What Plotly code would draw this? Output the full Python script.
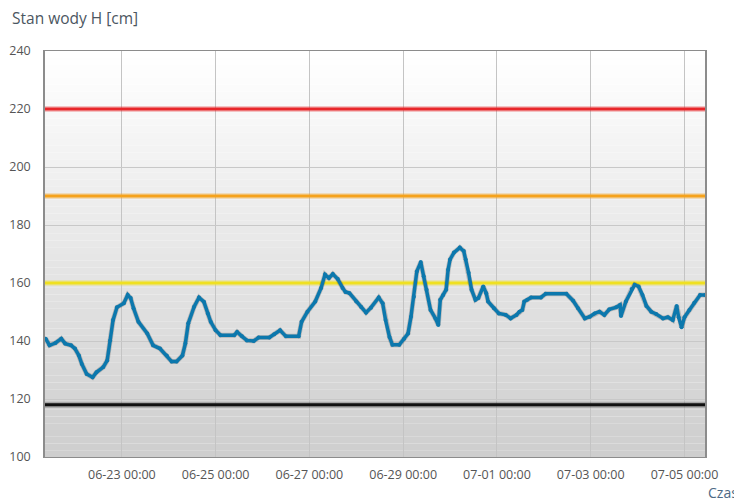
import plotly.graph_objects as go

# odczyty stanu wody (czas, H [cm])
czas = [
    "2020-06-21 09:00", "2020-06-21 11:00", "2020-06-21 14:00", "2020-06-21 17:00", "2020-06-21 19:00",
    "2020-06-21 22:00", "2020-06-22 00:00", "2020-06-22 02:00", "2020-06-22 03:30", "2020-06-22 06:00",
    "2020-06-22 09:00", "2020-06-22 11:00", "2020-06-22 14:30", "2020-06-22 16:30", "2020-06-22 18:00",
    "2020-06-22 19:30", "2020-06-22 21:30", "2020-06-23 01:00", "2020-06-23 03:00", "2020-06-23 04:30",
    "2020-06-23 06:00", "2020-06-23 08:30", "2020-06-23 13:00", "2020-06-23 16:00", "2020-06-23 19:30",
    "2020-06-23 23:00", "2020-06-24 01:30", "2020-06-24 04:00", "2020-06-24 07:00", "2020-06-24 08:30",
    "2020-06-24 10:00", "2020-06-24 13:00", "2020-06-24 15:30", "2020-06-24 18:00", "2020-06-24 20:00",
    "2020-06-24 21:30", "2020-06-25 00:00", "2020-06-25 02:30", "2020-06-25 09:30", "2020-06-25 11:00",
    "2020-06-25 13:30", "2020-06-25 16:00", "2020-06-25 19:30", "2020-06-25 22:00", "2020-06-26 03:30",
    "2020-06-26 06:00", "2020-06-26 09:00", "2020-06-26 12:00", "2020-06-26 18:30", "2020-06-26 20:00",
    "2020-06-26 23:00", "2020-06-27 03:00", "2020-06-27 06:00", "2020-06-27 08:00", "2020-06-27 10:00",
    "2020-06-27 12:00", "2020-06-27 14:30", "2020-06-27 17:00", "2020-06-27 18:30", "2020-06-27 20:30",
    "2020-06-28 00:00", "2020-06-28 02:30", "2020-06-28 05:00", "2020-06-28 07:30", "2020-06-28 11:30",
    "2020-06-28 13:30", "2020-06-28 15:00", "2020-06-28 17:00", "2020-06-28 18:30", "2020-06-28 22:00",
    "2020-06-29 00:30", "2020-06-29 02:30", "2020-06-29 04:00", "2020-06-29 05:30", "2020-06-29 07:00",
    "2020-06-29 09:00", "2020-06-29 10:30", "2020-06-29 12:00", "2020-06-29 14:00", "2020-06-29 16:30",
    "2020-06-29 18:00", "2020-06-29 19:00", "2020-06-29 20:30", "2020-06-29 22:00", "2020-06-29 23:00",
    "2020-06-30 00:00", "2020-06-30 02:00", "2020-06-30 05:00", "2020-06-30 07:00", "2020-06-30 08:00",
    "2020-06-30 09:30", "2020-06-30 11:00", "2020-06-30 13:00", "2020-06-30 14:30", "2020-06-30 17:00",
    "2020-06-30 18:30", "2020-06-30 19:30", "2020-06-30 22:30", "2020-07-01 01:00", "2020-07-01 04:30",
    "2020-07-01 07:00", "2020-07-01 10:00", "2020-07-01 11:30", "2020-07-01 13:00", "2020-07-01 14:00",
    "2020-07-01 15:30", "2020-07-01 17:30", "2020-07-01 22:30", "2020-07-02 01:00", "2020-07-02 11:30",
    "2020-07-02 15:00", "2020-07-02 17:30", "2020-07-02 21:00", "2020-07-02 23:30", "2020-07-03 02:00",
    "2020-07-03 04:30", "2020-07-03 07:00", "2020-07-03 09:30", "2020-07-03 13:00", "2020-07-03 15:00",
    "2020-07-03 15:30", "2020-07-03 18:00", "2020-07-03 21:00", "2020-07-03 22:30", "2020-07-04 00:30",
    "2020-07-04 02:30", "2020-07-04 04:30", "2020-07-04 07:00", "2020-07-04 09:30", "2020-07-04 13:00",
    "2020-07-04 15:30", "2020-07-04 18:00", "2020-07-04 20:00", "2020-07-04 21:00", "2020-07-04 22:30",
    "2020-07-05 00:00", "2020-07-05 02:30", "2020-07-05 05:00", "2020-07-05 08:00", "2020-07-05 10:30",
]
stan = [
    140.8, 138.5, 139.3, 140.8, 139.1,
    138.5, 137.4, 135.0, 132.1, 128.6,
    127.5, 129.2, 131.0, 133.3, 140.2,
    147.2, 151.6, 153.0, 155.9, 154.8,
    151.3, 146.6, 142.6, 138.5, 137.4,
    135.0, 132.9, 132.9, 135.0, 139.1,
    146.1, 151.8, 155.0, 153.5, 149.5,
    146.6, 143.7, 142.0, 142.0, 143.1,
    141.6, 140.2, 140.0, 141.2, 141.2,
    142.3, 143.7, 141.6, 141.6, 146.6,
    150.1, 153.6, 158.3, 162.9, 161.7,
    163.1, 161.4, 158.3, 156.9, 156.5,
    153.6, 151.7, 149.8, 151.5, 155.0,
    153.0, 147.2, 141.4, 138.7, 138.7,
    140.8, 142.6, 148.4, 155.3, 164.0,
    167.2, 162.3, 157.7, 150.7, 147.8,
    145.5, 154.2, 155.9, 157.7, 164.6,
    168.1, 170.5, 172.2, 171.0, 168.1,
    163.5, 157.7, 154.2, 154.8, 158.8,
    156.5, 153.6, 151.3, 149.5, 149.0,
    147.8, 149.0, 150.1, 150.7, 153.6,
    154.2, 155.0, 155.0, 156.3, 156.3,
    153.9, 151.3, 147.8, 148.4, 149.5,
    150.1, 149.0, 150.9, 151.6, 152.4,
    148.6, 153.6, 157.9, 159.4, 158.8,
    155.9, 152.1, 150.1, 149.3, 147.8,
    148.2, 147.2, 152.1, 148.2, 144.7,
    148.2, 150.7, 153.2, 155.9, 155.9,
]

# stany charakterystyczne
progi = [220, 190, 160, 118]
progi_kolory = ["#e8262a", "#f5a21c", "#efe021", "#111111"]

x_zakres = ["2020-06-21 08:40", "2020-07-05 10:30"]
y_zakres = [100, 240]

fig = go.Figure()

# linie progowe z delikatna poswiata
for p, k in zip(progi, progi_kolory):
    fig.add_trace(go.Scatter(x=x_zakres, y=[p, p], mode="lines", line=dict(color=k, width=6),
                             opacity=0.25, hoverinfo="skip", showlegend=False))
    fig.add_trace(go.Scatter(x=x_zakres, y=[p, p], mode="lines", line=dict(color=k, width=3),
                             hoverinfo="skip", showlegend=False))

fig.add_trace(go.Scatter(x=czas, y=stan, mode="lines", line=dict(color="rgba(0,0,0,0.18)", width=5),
                         hoverinfo="skip", showlegend=False))
fig.add_trace(go.Scatter(x=czas, y=stan, mode="lines+markers", name="Stan wody",
                         line=dict(color="#0c78ad", width=3.5),
                         marker=dict(color="#0c78ad", size=4), showlegend=False))

# gradient tla obszaru wykresu
n = 60
for i in range(n):
    t = i / (n - 1)
    c = int(round(206 + (255 - 206) * t))
    fig.add_shape(type="rect", xref="paper", yref="paper", x0=0, x1=1, y0=i / n, y1=(i + 1) / n,
                  fillcolor=f"rgb({c},{c},{c})", line=dict(width=0), layer="below")

# strona ma domyslny margines 8 px, wiec rysunek jest o tyle mniejszy
fig.update_layout(
    width=734, height=493,
    margin=dict(l=37, r=37, t=43, b=44),
    paper_bgcolor="white",
    plot_bgcolor="white",
    font=dict(family="Open Sans, sans-serif", size=12.5, color="#555555"),
    showlegend=False,
    annotations=[
        dict(text="Stan wody H [cm]", xref="paper", yref="paper", x=-0.053, y=1.081,
             xanchor="left", yanchor="middle", showarrow=False,
             font=dict(size=15.5, color="#4b5661")),
        dict(text="Czas", xref="paper", yref="paper", x=1.053, y=-0.087,
             xanchor="right", yanchor="middle", showarrow=False,
             font=dict(size=14, color="#4e6a85")),
    ],
)

fig.update_xaxes(
    type="date", range=x_zakres, automargin=False,
    tick0="2020-06-23", dtick=2 * 86400000, tickformat="%m-%d %H:%M",
    showgrid=True, gridcolor="#c4c4c4", gridwidth=1,
    showline=True, linecolor="#8c8c8c", linewidth=1, mirror=True,
    ticks="outside", ticklen=6, tickcolor="rgba(0,0,0,0)",
    zeroline=False,
)
fig.update_yaxes(
    range=y_zakres, dtick=20, automargin=False,
    showgrid=True, gridcolor="#c8c8c8", gridwidth=1,
    showline=True, linecolor="#8c8c8c", linewidth=1.5, mirror=True,
    ticks="outside", ticklen=10, tickcolor="rgba(0,0,0,0)",
    zeroline=False,
)

fig.write_html("out.html")
